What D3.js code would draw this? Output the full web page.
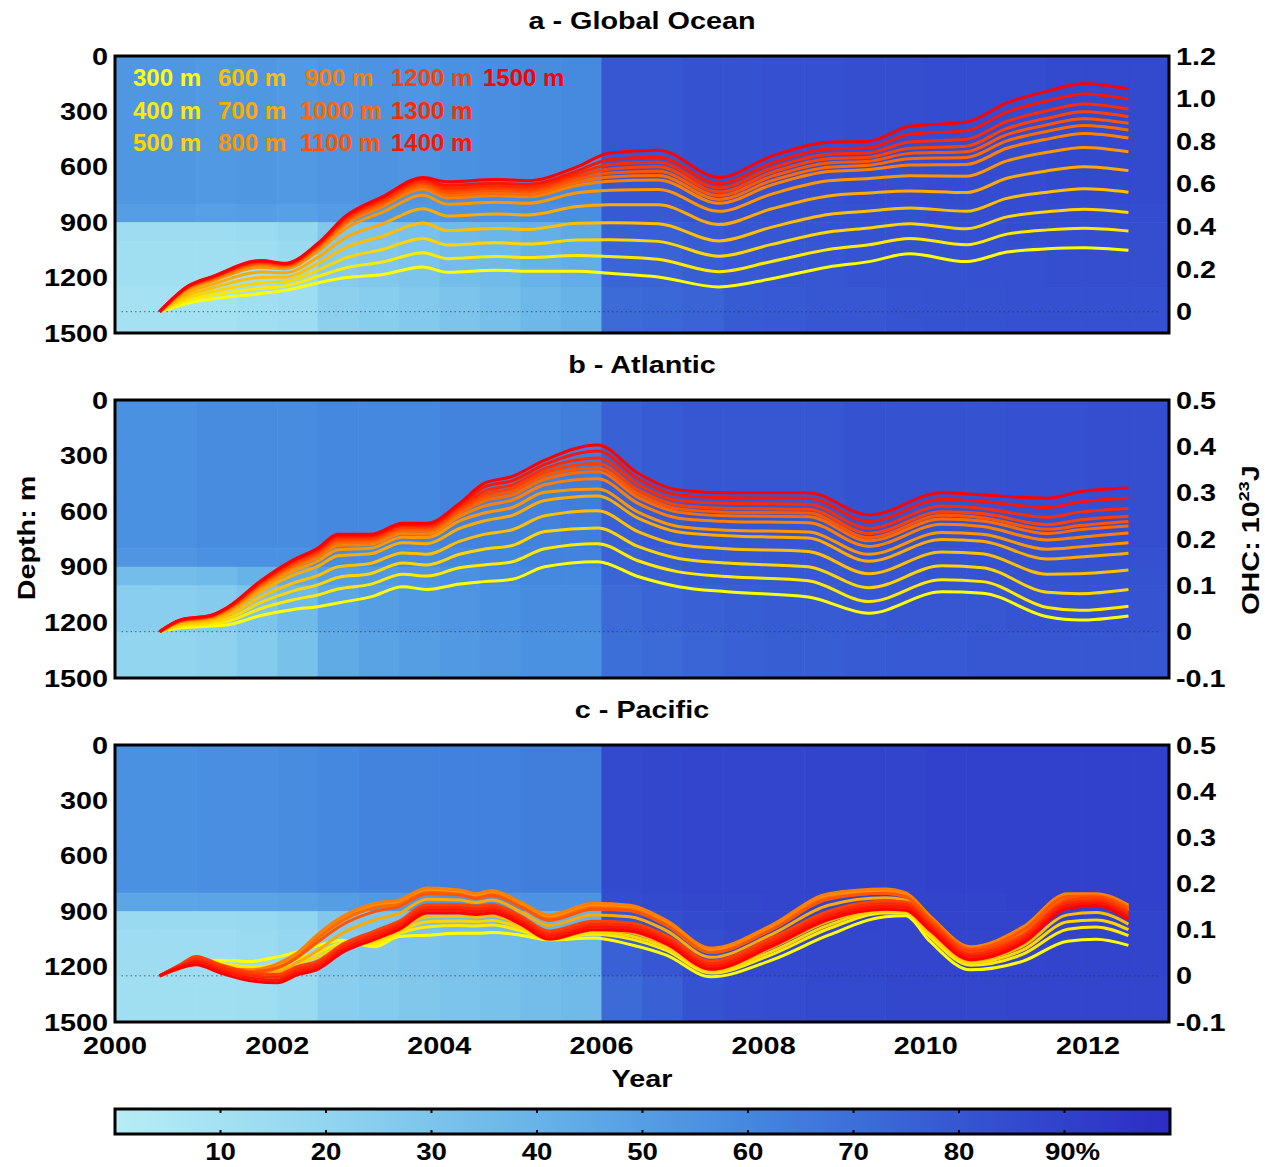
<!doctype html>
<html>
<head>
<meta charset="utf-8">
<style>
  body { margin: 0; background: #fff; }
  svg { font-family: 'Liberation Sans', Arial, sans-serif; font-weight: bold; }
</style>
<script src="https://d3js.org/d3.v7.min.js"></script>
</head>
<body>
<svg width="1265" height="1167"></svg>
<script>
// ---- data ----
const depthLevels = [300, 400, 500, 600, 700, 800, 900, 1000, 1100, 1200, 1300, 1400, 1500];

// a - Global Ocean, OHC (10^23 J) integrated to each depth
const globalYears = [2000.55, 2000.9, 2001.2, 2001.8, 2002.1, 2002.5, 2002.85, 2003.3, 2003.8, 2004.1, 2004.7, 2005.1, 2005.7,
  2006.1, 2006.7, 2007.45, 2008.1, 2008.8, 2009.3, 2009.8, 2010.5, 2011.0, 2011.5, 2011.95, 2012.5];
const globalOHC = [
  [0, 0.04, 0.06, 0.085, 0.10, 0.135, 0.16, 0.175, 0.21, 0.185, 0.195, 0.19, 0.19, 0.18, 0.163, 0.116, 0.155, 0.21, 0.235, 0.272, 0.235, 0.28, 0.295, 0.30, 0.288],
  [0, 0.053, 0.077, 0.110, 0.120, 0.165, 0.206, 0.233, 0.277, 0.249, 0.259, 0.254, 0.264, 0.259, 0.246, 0.188, 0.236, 0.292, 0.314, 0.344, 0.314, 0.364, 0.384, 0.392, 0.379],
  [0, 0.066, 0.094, 0.135, 0.141, 0.194, 0.253, 0.292, 0.344, 0.313, 0.323, 0.318, 0.337, 0.338, 0.330, 0.260, 0.316, 0.374, 0.393, 0.413, 0.389, 0.445, 0.469, 0.481, 0.466],
  [0, 0.079, 0.111, 0.161, 0.162, 0.226, 0.302, 0.354, 0.416, 0.381, 0.391, 0.386, 0.415, 0.417, 0.413, 0.332, 0.397, 0.456, 0.472, 0.487, 0.471, 0.532, 0.561, 0.577, 0.561],
  [0, 0.092, 0.128, 0.186, 0.183, 0.255, 0.349, 0.412, 0.483, 0.449, 0.459, 0.454, 0.494, 0.502, 0.502, 0.409, 0.483, 0.543, 0.557, 0.567, 0.559, 0.626, 0.661, 0.680, 0.662],
  [0, 0.104, 0.144, 0.209, 0.202, 0.283, 0.392, 0.467, 0.546, 0.504, 0.514, 0.509, 0.558, 0.570, 0.574, 0.471, 0.552, 0.614, 0.625, 0.638, 0.636, 0.708, 0.748, 0.771, 0.751],
  [0, 0.110, 0.151, 0.220, 0.211, 0.296, 0.412, 0.493, 0.575, 0.534, 0.544, 0.539, 0.592, 0.612, 0.618, 0.509, 0.595, 0.658, 0.667, 0.688, 0.691, 0.767, 0.810, 0.836, 0.815],
  [0, 0.112, 0.155, 0.225, 0.214, 0.302, 0.421, 0.504, 0.588, 0.546, 0.556, 0.551, 0.607, 0.632, 0.639, 0.527, 0.615, 0.678, 0.687, 0.718, 0.724, 0.802, 0.847, 0.874, 0.853],
  [0, 0.114, 0.157, 0.228, 0.218, 0.306, 0.428, 0.513, 0.599, 0.559, 0.569, 0.564, 0.621, 0.651, 0.659, 0.545, 0.635, 0.698, 0.706, 0.743, 0.751, 0.831, 0.877, 0.906, 0.884],
  [0, 0.116, 0.159, 0.232, 0.220, 0.310, 0.434, 0.520, 0.607, 0.570, 0.580, 0.575, 0.634, 0.670, 0.680, 0.562, 0.654, 0.718, 0.725, 0.767, 0.777, 0.860, 0.908, 0.938, 0.915],
  [0, 0.117, 0.161, 0.235, 0.223, 0.314, 0.440, 0.527, 0.615, 0.580, 0.590, 0.585, 0.646, 0.691, 0.701, 0.581, 0.675, 0.739, 0.746, 0.796, 0.809, 0.893, 0.943, 0.975, 0.951],
  [0, 0.119, 0.163, 0.238, 0.225, 0.317, 0.446, 0.535, 0.624, 0.593, 0.603, 0.598, 0.660, 0.714, 0.725, 0.602, 0.698, 0.763, 0.769, 0.833, 0.849, 0.937, 0.989, 1.022, 0.998],
  [0, 0.12, 0.165, 0.24, 0.227, 0.32, 0.45, 0.54, 0.63, 0.61, 0.62, 0.615, 0.68, 0.745, 0.758, 0.63, 0.73, 0.795, 0.80, 0.87, 0.89, 0.98, 1.035, 1.07, 1.045]
];

// b - Atlantic
const atlanticYears = [2000.55, 2000.8, 2001.2, 2001.4, 2001.8, 2002.2, 2002.5, 2002.75, 2003.15, 2003.55, 2003.85, 2004.25, 2004.55,
  2004.9, 2005.3, 2005.95, 2006.45, 2006.95, 2007.55, 2008.55, 2009.3, 2010.2, 2010.7, 2011.5, 2011.9, 2012.5];
const atlanticOHC = [
  [0, 0.008, 0.012, 0.015, 0.035, 0.048, 0.054, 0.062, 0.075, 0.097, 0.091, 0.103, 0.108, 0.113, 0.14, 0.151, 0.119, 0.097, 0.086, 0.075, 0.04, 0.086, 0.083, 0.032, 0.025, 0.034],
  [0, 0.011, 0.017, 0.023, 0.050, 0.069, 0.079, 0.092, 0.102, 0.124, 0.120, 0.138, 0.144, 0.151, 0.179, 0.190, 0.153, 0.129, 0.119, 0.110, 0.065, 0.112, 0.108, 0.052, 0.046, 0.055],
  [0, 0.014, 0.021, 0.029, 0.063, 0.088, 0.101, 0.117, 0.125, 0.148, 0.144, 0.167, 0.178, 0.186, 0.216, 0.224, 0.184, 0.158, 0.148, 0.140, 0.095, 0.142, 0.138, 0.085, 0.082, 0.091],
  [0, 0.017, 0.025, 0.036, 0.075, 0.105, 0.121, 0.140, 0.147, 0.170, 0.167, 0.195, 0.210, 0.220, 0.250, 0.261, 0.216, 0.188, 0.179, 0.173, 0.125, 0.172, 0.168, 0.124, 0.125, 0.133],
  [0, 0.020, 0.029, 0.042, 0.087, 0.122, 0.141, 0.164, 0.168, 0.192, 0.190, 0.223, 0.239, 0.251, 0.283, 0.293, 0.245, 0.215, 0.207, 0.202, 0.152, 0.199, 0.195, 0.157, 0.161, 0.169],
  [0, 0.021, 0.031, 0.045, 0.094, 0.131, 0.152, 0.177, 0.180, 0.204, 0.203, 0.239, 0.256, 0.268, 0.301, 0.308, 0.258, 0.227, 0.219, 0.215, 0.167, 0.214, 0.210, 0.178, 0.183, 0.192],
  [0, 0.022, 0.032, 0.048, 0.098, 0.138, 0.160, 0.186, 0.188, 0.212, 0.211, 0.249, 0.271, 0.284, 0.317, 0.330, 0.277, 0.245, 0.238, 0.235, 0.184, 0.232, 0.227, 0.198, 0.204, 0.213],
  [0, 0.023, 0.033, 0.049, 0.101, 0.142, 0.165, 0.192, 0.194, 0.218, 0.217, 0.256, 0.282, 0.295, 0.329, 0.345, 0.290, 0.258, 0.250, 0.248, 0.196, 0.243, 0.239, 0.212, 0.220, 0.228],
  [0, 0.023, 0.034, 0.051, 0.103, 0.145, 0.169, 0.197, 0.198, 0.222, 0.221, 0.261, 0.289, 0.303, 0.337, 0.353, 0.298, 0.265, 0.258, 0.256, 0.203, 0.251, 0.246, 0.221, 0.229, 0.238],
  [0, 0.024, 0.034, 0.052, 0.105, 0.148, 0.172, 0.200, 0.201, 0.225, 0.225, 0.266, 0.296, 0.310, 0.344, 0.363, 0.306, 0.273, 0.266, 0.264, 0.212, 0.259, 0.255, 0.231, 0.241, 0.249],
  [0, 0.024, 0.035, 0.052, 0.107, 0.151, 0.175, 0.204, 0.205, 0.229, 0.228, 0.270, 0.303, 0.317, 0.352, 0.375, 0.318, 0.283, 0.277, 0.275, 0.223, 0.271, 0.266, 0.247, 0.258, 0.266],
  [0, 0.025, 0.036, 0.053, 0.109, 0.153, 0.178, 0.207, 0.207, 0.231, 0.231, 0.274, 0.312, 0.326, 0.361, 0.390, 0.330, 0.295, 0.289, 0.288, 0.238, 0.286, 0.281, 0.268, 0.280, 0.288],
  [0, 0.025, 0.036, 0.054, 0.11, 0.155, 0.18, 0.21, 0.21, 0.234, 0.234, 0.277, 0.32, 0.335, 0.37, 0.403, 0.342, 0.306, 0.30, 0.30, 0.252, 0.30, 0.295, 0.288, 0.302, 0.31]
];

// c - Pacific
const pacificYears = [2000.55, 2000.8, 2001.0, 2001.3, 2001.65, 2002.0, 2002.25, 2002.5, 2002.8, 2003.2, 2003.5, 2003.85, 2004.25,
  2004.45, 2004.65, 2005.0, 2005.35, 2005.9, 2006.35, 2006.8, 2007.35, 2008.1, 2008.8, 2009.5, 2009.75, 2010.05, 2010.55,
  2011.2, 2011.75, 2012.1, 2012.5];
const pacificOHC = [
  [0, 0.018, 0.032, 0.034, 0.031, 0.041, 0.052, 0.065, 0.077, 0.063, 0.085, 0.088, 0.092, 0.092, 0.094, 0.088, 0.078, 0.082, 0.068, 0.045, -0.002, 0.034, 0.088, 0.128, 0.13, 0.075, 0.013, 0.032, 0.075, 0.079, 0.066],
  [0, 0.019, 0.031, 0.027, 0.019, 0.024, 0.037, 0.050, 0.070, 0.070, 0.092, 0.106, 0.109, 0.108, 0.110, 0.098, 0.080, 0.090, 0.080, 0.055, 0.006, 0.046, 0.102, 0.136, 0.136, 0.085, 0.023, 0.047, 0.101, 0.106, 0.087],
  [0, 0.019, 0.031, 0.022, 0.012, 0.014, 0.028, 0.041, 0.066, 0.075, 0.096, 0.117, 0.119, 0.117, 0.120, 0.104, 0.082, 0.095, 0.087, 0.061, 0.010, 0.053, 0.110, 0.140, 0.140, 0.091, 0.028, 0.056, 0.117, 0.121, 0.100],
  [0, 0.019, 0.031, 0.018, 0.005, 0.004, 0.019, 0.032, 0.062, 0.079, 0.101, 0.128, 0.129, 0.127, 0.130, 0.110, 0.083, 0.100, 0.094, 0.067, 0.014, 0.061, 0.118, 0.144, 0.143, 0.097, 0.034, 0.065, 0.132, 0.137, 0.112],
  [0, 0.020, 0.032, 0.015, 0.005, 0.009, 0.029, 0.055, 0.092, 0.121, 0.135, 0.166, 0.164, 0.159, 0.164, 0.139, 0.109, 0.132, 0.128, 0.098, 0.040, 0.090, 0.153, 0.169, 0.164, 0.118, 0.052, 0.092, 0.165, 0.168, 0.141],
  [0, 0.018, 0.030, 0.014, 0.009, 0.022, 0.046, 0.086, 0.124, 0.153, 0.160, 0.186, 0.182, 0.174, 0.181, 0.156, 0.128, 0.153, 0.149, 0.116, 0.056, 0.106, 0.174, 0.184, 0.176, 0.126, 0.059, 0.102, 0.174, 0.174, 0.149],
  [0, 0.02, 0.034, 0.018, 0.013, 0.026, 0.05, 0.09, 0.128, 0.157, 0.164, 0.19, 0.186, 0.178, 0.185, 0.16, 0.132, 0.157, 0.153, 0.12, 0.06, 0.11, 0.178, 0.188, 0.18, 0.13, 0.063, 0.106, 0.178, 0.178, 0.153],
  [0, 0.016, 0.025, 0.009, 0.004, 0.017, 0.041, 0.081, 0.119, 0.148, 0.155, 0.181, 0.177, 0.169, 0.176, 0.151, 0.123, 0.148, 0.144, 0.111, 0.051, 0.101, 0.169, 0.179, 0.171, 0.121, 0.054, 0.097, 0.169, 0.169, 0.144],
  [0, 0.020, 0.033, 0.017, 0.009, 0.017, 0.040, 0.073, 0.110, 0.139, 0.150, 0.178, 0.175, 0.168, 0.174, 0.150, 0.120, 0.144, 0.141, 0.109, 0.050, 0.100, 0.166, 0.179, 0.172, 0.124, 0.058, 0.099, 0.172, 0.173, 0.147],
  [0, 0.024, 0.042, 0.024, 0.008, 0.003, 0.020, 0.032, 0.068, 0.097, 0.118, 0.154, 0.154, 0.151, 0.154, 0.130, 0.097, 0.118, 0.115, 0.087, 0.032, 0.082, 0.140, 0.162, 0.160, 0.117, 0.053, 0.089, 0.164, 0.169, 0.140],
  [0, 0.022, 0.036, 0.018, 0.002, -0.003, 0.014, 0.026, 0.062, 0.091, 0.112, 0.148, 0.148, 0.145, 0.148, 0.124, 0.091, 0.112, 0.109, 0.081, 0.026, 0.076, 0.134, 0.156, 0.154, 0.111, 0.047, 0.083, 0.158, 0.163, 0.134],
  [0, 0.02, 0.03, 0.012, -0.004, -0.009, 0.008, 0.02, 0.056, 0.085, 0.106, 0.142, 0.142, 0.139, 0.142, 0.118, 0.085, 0.106, 0.103, 0.075, 0.02, 0.07, 0.128, 0.15, 0.148, 0.105, 0.041, 0.077, 0.152, 0.157, 0.128],
  [0, 0.017, 0.024, 0.006, -0.010, -0.015, 0.002, 0.014, 0.050, 0.079, 0.100, 0.136, 0.136, 0.133, 0.136, 0.112, 0.079, 0.100, 0.097, 0.069, 0.014, 0.064, 0.122, 0.144, 0.142, 0.099, 0.035, 0.071, 0.146, 0.151, 0.122]
];

// background: data coverage (%) per half year and depth band
const coverYears = [2000, 2000.5, 2001, 2001.5, 2002, 2002.5, 2003, 2003.5, 2004, 2004.5, 2005, 2005.5, 2006,
  2006.5, 2007, 2007.5, 2008, 2008.5, 2009, 2009.5, 2010, 2010.5, 2011, 2011.5, 2012, 2012.5, 2013];
const coverDepths = [0, 800, 900, 1000, 1250, 1500];
const coverGlobal = [
  [53, 53, 52, 53, 52, 54, 55, 54, 56, 57, 58, 59, 80, 80, 82, 82, 83, 83, 84, 84, 85, 85, 85, 86, 86, 86],
  [50, 50, 49, 50, 49, 51, 52, 52, 54, 55, 56, 57, 79, 79, 81, 81, 82, 82, 83, 83, 84, 84, 85, 85, 85, 85],
  [14, 14, 14, 15, 18, 28, 30, 32, 36, 38, 42, 45, 76, 76, 78, 80, 80, 81, 82, 82, 83, 83, 84, 84, 84, 84],
  [12, 12, 12, 13, 16, 26, 28, 30, 34, 36, 40, 43, 74, 75, 77, 79, 80, 80, 81, 82, 82, 83, 83, 84, 84, 84],
  [10, 10, 10, 12, 14, 23, 25, 27, 30, 33, 37, 40, 72, 73, 75, 78, 79, 80, 80, 81, 82, 82, 83, 83, 83, 83]
];
const coverAtlantic = [
  [56, 56, 58, 58, 58, 60, 60, 60, 62, 62, 62, 64, 76, 78, 80, 80, 80, 80, 82, 82, 82, 82, 83, 83, 84, 84],
  [54, 54, 56, 56, 56, 58, 58, 58, 60, 60, 62, 62, 75, 77, 79, 79, 80, 80, 81, 81, 82, 82, 82, 82, 83, 83],
  [34, 34, 36, 40, 44, 50, 52, 54, 56, 58, 60, 60, 74, 76, 78, 78, 79, 79, 80, 80, 81, 81, 82, 82, 82, 82],
  [24, 24, 26, 30, 36, 46, 50, 52, 54, 56, 58, 58, 72, 74, 76, 77, 78, 78, 79, 80, 80, 80, 81, 81, 81, 81],
  [20, 20, 22, 26, 32, 44, 48, 50, 52, 54, 56, 56, 70, 72, 74, 76, 77, 77, 78, 79, 79, 80, 80, 80, 80, 80]
];
const coverPacific = [
  [56, 56, 57, 57, 58, 60, 62, 62, 63, 63, 64, 64, 86, 87, 88, 88, 88, 89, 89, 89, 90, 90, 90, 90, 90, 90],
  [46, 46, 47, 47, 48, 50, 52, 52, 54, 54, 55, 55, 85, 86, 87, 87, 88, 88, 88, 89, 89, 89, 90, 90, 90, 90],
  [16, 16, 16, 17, 20, 28, 30, 32, 34, 36, 38, 40, 80, 84, 86, 87, 87, 88, 88, 88, 89, 89, 89, 89, 89, 89],
  [14, 14, 14, 15, 18, 26, 28, 30, 32, 34, 36, 38, 76, 80, 84, 86, 86, 87, 87, 88, 88, 88, 88, 89, 89, 89],
  [12, 12, 12, 13, 16, 24, 26, 28, 30, 32, 34, 36, 72, 76, 82, 84, 85, 86, 86, 87, 87, 87, 88, 88, 88, 88]
];

const depthTicks = [0, 300, 600, 900, 1200, 1500];
const globalTicks = [0, 0.2, 0.4, 0.6, 0.8, 1.0, 1.2];
const basinTicks = [-0.1, 0, 0.1, 0.2, 0.3, 0.4, 0.5];
const yearTicks = [2000, 2002, 2004, 2006, 2008, 2010, 2012];
const percentTicks = [10, 20, 30, 40, 50, 60, 70, 80, 90];

// ---- drawing ----
const svg = d3.select("svg");
const x = d3.scaleLinear().domain([2000, 2013]).range([115, 1169]);
const coverColor = d3.scaleLinear()
  .domain([0, 20, 40, 60, 80, 100])
  .range(["#b6edf5", "#92d5ef", "#67b3e8", "#4488df", "#3656d2", "#2c2cc4"])
  .clamp(true);
const lineColor = d3.scaleLinear().domain([300, 1500]).range(["#ffff00", "#ff0000"]);

// matlab-style labels: plain hyphen for negatives
function fmtOHC(v) {
  if (v === 0) return "0";
  return (v < 0 ? "-" : "") + Math.abs(v).toFixed(1);
}

function label(g, str, px, py, anchor, rotate) {
  return g.append("text")
    .attr("transform", "translate(" + px + "," + py + ")" + (rotate ? " rotate(-90)" : "") + " scale(1.2,1)")
    .attr("text-anchor", anchor)
    .attr("font-size", 24)
    .text(str);
}

const panels = [
  { title: "a - Global Ocean", top: 56, bottom: 333, domain: [-0.1, 1.2], ticks: globalTicks,
    years: globalYears, ohc: globalOHC, cover: coverGlobal },
  { title: "b - Atlantic", top: 400, bottom: 678, domain: [-0.1, 0.5], ticks: basinTicks,
    years: atlanticYears, ohc: atlanticOHC, cover: coverAtlantic },
  { title: "c - Pacific", top: 745, bottom: 1022, domain: [-0.1, 0.5], ticks: basinTicks,
    years: pacificYears, ohc: pacificOHC, cover: coverPacific }
];

panels.forEach(function (p, pi) {
  const g = svg.append("g");
  const depth = d3.scaleLinear().domain([0, 1500]).range([p.top, p.bottom]);
  const y = d3.scaleLinear().domain(p.domain).range([p.bottom, p.top]);

  // coverage heatmap
  p.cover.forEach(function (row, j) {
    g.append("g").selectAll("rect").data(row).join("rect")
      .attr("x", (d, i) => x(coverYears[i]))
      .attr("width", (d, i) => x(coverYears[i + 1]) - x(coverYears[i]) + 0.6)
      .attr("y", depth(coverDepths[j]))
      .attr("height", depth(coverDepths[j + 1]) - depth(coverDepths[j]) + 0.6)
      .attr("fill", d => coverColor(d));
  });

  // zero line
  g.append("line")
    .attr("x1", x(2000.08)).attr("x2", x(2012.9))
    .attr("y1", y(0)).attr("y2", y(0))
    .attr("stroke", "#333").attr("stroke-width", 1)
    .attr("stroke-dasharray", "1.5,3").attr("opacity", 0.7);

  // OHC lines, shallow first so the deep red ends on top
  const line = d3.line()
    .x((d, i) => x(p.years[i]))
    .y(d => y(d))
    .curve(d3.curveMonotoneX);
  p.ohc.forEach(function (series, k) {
    g.append("path")
      .attr("d", line(series))
      .attr("fill", "none")
      .attr("stroke", lineColor(depthLevels[k]))
      .attr("stroke-width", 3)
      .attr("stroke-linejoin", "round");
  });

  // frame
  g.append("rect")
    .attr("x", 115).attr("y", p.top)
    .attr("width", 1054).attr("height", p.bottom - p.top)
    .attr("fill", "none").attr("stroke", "#000").attr("stroke-width", 3);

  // tick labels
  depthTicks.forEach(d => label(g, d, 108, depth(d) + 8.5, "end"));
  p.ticks.forEach(v => label(g, fmtOHC(v), 1176, y(v) + 8.5, "start"));

  label(g, p.title, 642, p.top - 27, "middle");

  if (pi === 2) {
    yearTicks.forEach(t => label(g, t, x(t), 1054, "middle"));
    label(g, "Year", 642, 1087, "middle");
  }
});

// legend in panel a
const legendCols = [133, 218, 300, 391, 483];
const legendRows = [86, 119, 151];
depthLevels.forEach(function (d, k) {
  const col = Math.floor(k / 3), row = k % 3;
  svg.append("text")
    .attr("x", legendCols[col] + (d === 900 ? 5 : 0))
    .attr("y", legendRows[row])
    .attr("font-size", 24)
    .attr("fill", lineColor(d))
    .text(d + " m");
});

// axis titles
label(svg, "Depth: m", 35, 538, "middle", true);
const ohcTitle = svg.append("text")
  .attr("transform", "translate(1259,540) rotate(-90) scale(1.2,1)")
  .attr("text-anchor", "middle")
  .attr("font-size", 24);
ohcTitle.append("tspan").text("OHC: 10");
ohcTitle.append("tspan").attr("font-size", 15).attr("dy", -10).text("23");
ohcTitle.append("tspan").attr("dy", 10).text("J");

// colorbar
const cb = d3.scaleLinear().domain([0, 100]).range([115, 1170]);
const grad = svg.append("defs").append("linearGradient").attr("id", "cbgrad");
coverColor.domain().forEach(v => grad.append("stop")
  .attr("offset", v + "%").attr("stop-color", coverColor(v)));
svg.append("rect")
  .attr("x", cb(0)).attr("y", 1109).attr("width", cb(100) - cb(0)).attr("height", 25)
  .attr("fill", "url(#cbgrad)").attr("stroke", "#000").attr("stroke-width", 3);
percentTicks.forEach(function (v) {
  svg.append("line").attr("x1", cb(v)).attr("x2", cb(v)).attr("y1", 1109).attr("y2", 1113)
    .attr("stroke", "#000").attr("stroke-width", 2);
  svg.append("line").attr("x1", cb(v)).attr("x2", cb(v)).attr("y1", 1130).attr("y2", 1134)
    .attr("stroke", "#000").attr("stroke-width", 2);
  const t = label(svg, v === 90 ? "90%" : v, cb(v) + (v === 90 ? 8 : 0), 1160, "middle");
  t.attr("font-size", 23);
});
</script>
</body>
</html>
